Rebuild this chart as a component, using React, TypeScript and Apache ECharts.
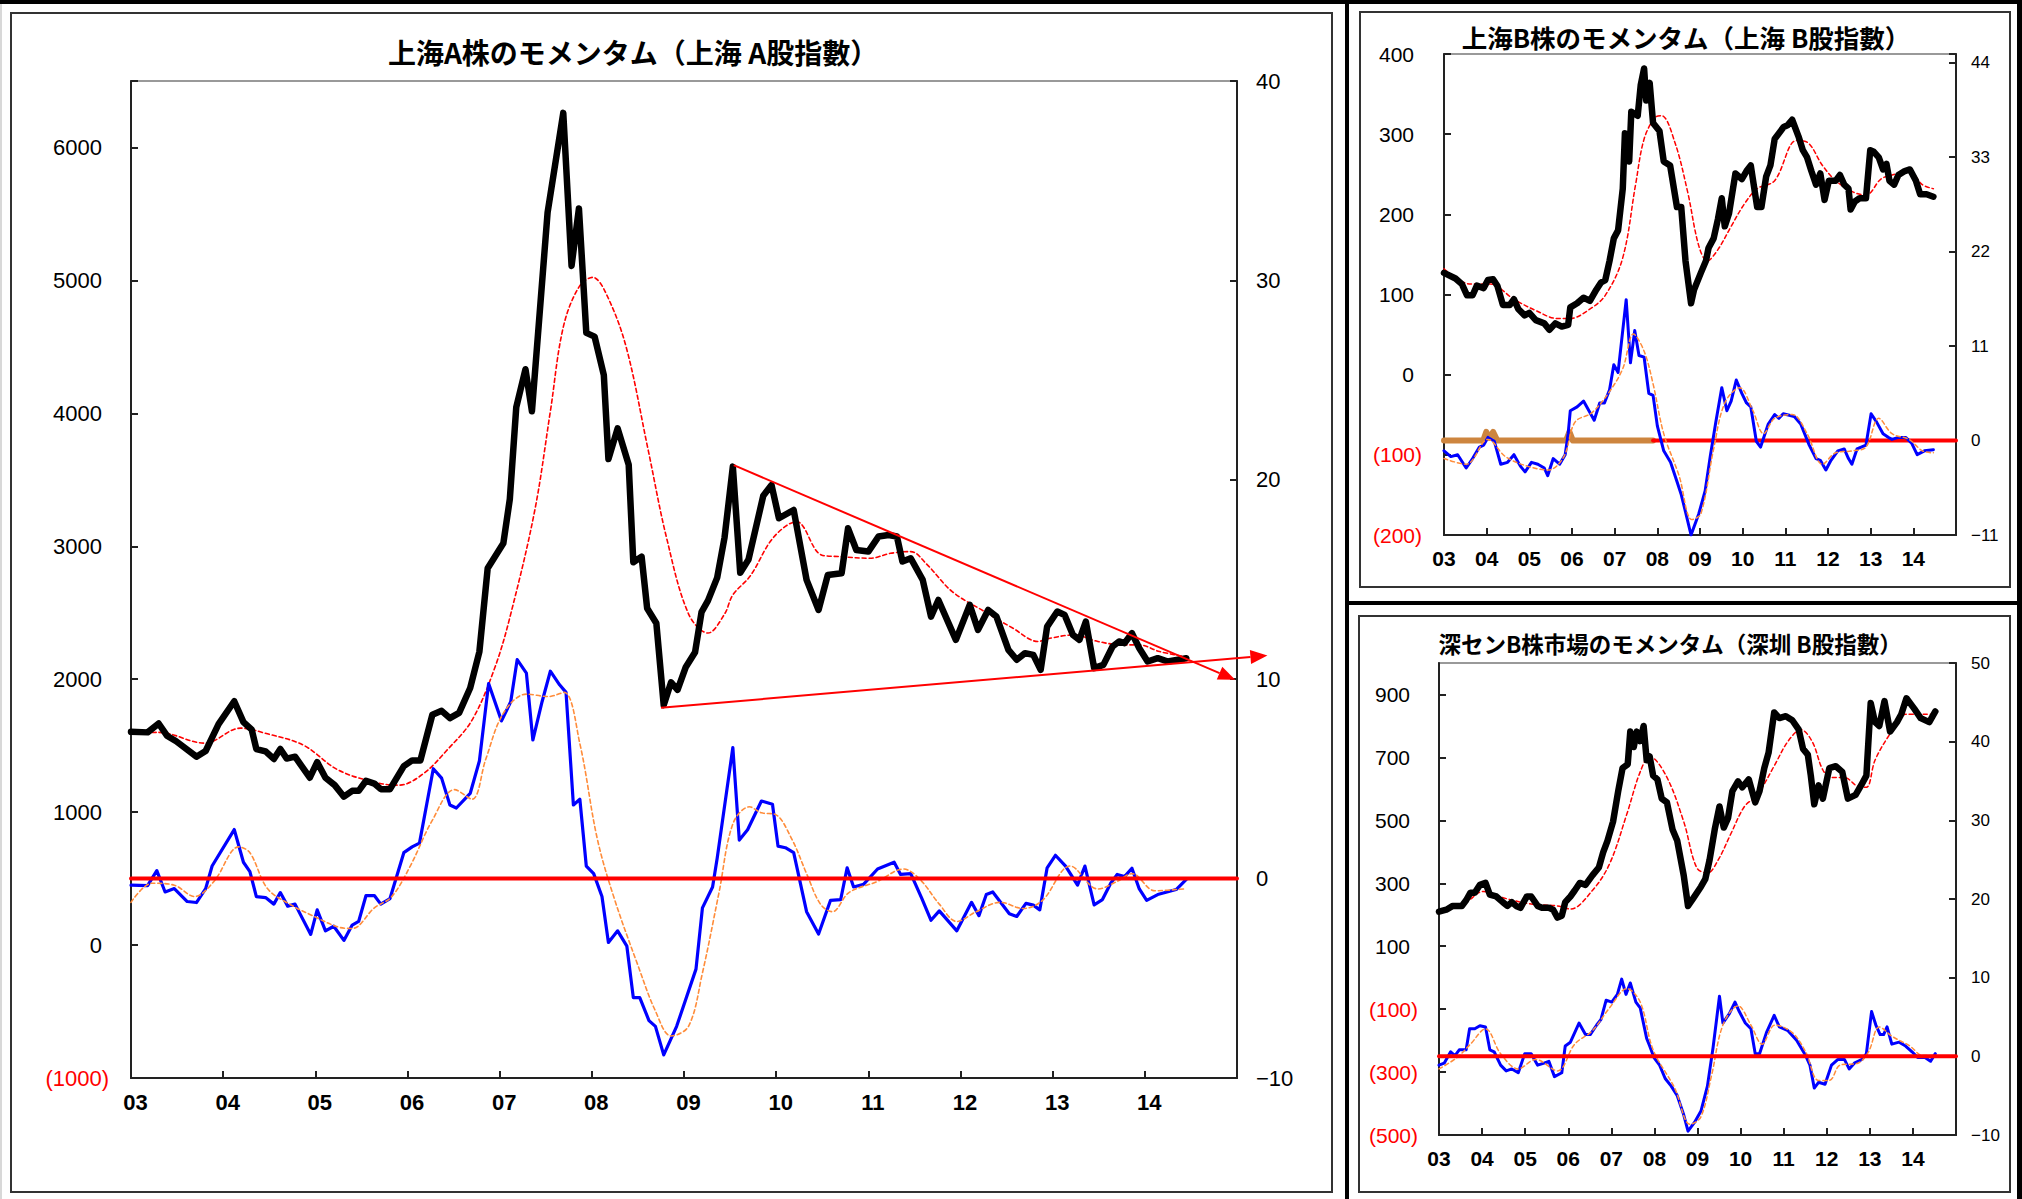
import React, { useEffect, useRef } from 'react';
import * as echarts from 'echarts';

// ---------------- DATA (x = fractional year, y = value) ----------------
// Main panel: 上海A株
const mainIndex = [[2003.0,1604],[2003.18,1600],[2003.30,1667],[2003.39,1575],[2003.49,1533],[2003.71,1417],[2003.81,1460],[2003.95,1662],[2004.12,1834],[2004.22,1677],[2004.31,1620],[2004.36,1474],[2004.46,1457],[2004.55,1400],[2004.62,1475],[2004.69,1403],[2004.78,1417],[2004.94,1259],[2005.02,1376],[2005.11,1259],[2005.21,1203],[2005.31,1116],[2005.40,1160],[2005.47,1160],[2005.55,1236],[2005.64,1215],[2005.71,1173],[2005.81,1173],[2005.96,1346],[2006.05,1389],[2006.14,1389],[2006.27,1733],[2006.37,1762],[2006.46,1707],[2006.56,1747],[2006.68,1934],[2006.78,2207],[2006.87,2835],[2007.04,3023],[2007.11,3353],[2007.18,4045],[2007.28,4332],[2007.35,4015],[2007.52,5511],[2007.69,6260],[2007.78,5109],[2007.86,5541],[2007.94,4605],[2008.03,4577],[2008.13,4289],[2008.18,3656],[2008.28,3887],[2008.40,3613],[2008.45,2880],[2008.54,2922],[2008.60,2534],[2008.70,2421],[2008.78,1805],[2008.86,1977],[2008.93,1920],[2009.02,2092],[2009.12,2203],[2009.19,2504],[2009.26,2591],[2009.36,2764],[2009.44,3066],[2009.53,3599],[2009.61,2800],[2009.70,2900],[2009.86,3380],[2009.95,3460],[2010.03,3211],[2010.19,3273],[2010.33,2747],[2010.46,2521],[2010.56,2784],[2010.71,2797],[2010.78,3135],[2010.87,2972],[2011.00,2960],[2011.11,3073],[2011.22,3085],[2011.31,3073],[2011.37,2885],[2011.46,2910],[2011.59,2747],[2011.68,2471],[2011.76,2596],[2011.95,2296],[2012.10,2559],[2012.19,2371],[2012.30,2521],[2012.39,2471],[2012.52,2221],[2012.61,2146],[2012.70,2196],[2012.79,2183],[2012.87,2070],[2012.94,2396],[2013.05,2509],[2013.13,2483],[2013.22,2333],[2013.29,2296],[2013.36,2434],[2013.45,2083],[2013.55,2108],[2013.65,2246],[2013.72,2284],[2013.78,2271],[2013.86,2346],[2013.94,2233],[2014.03,2133],[2014.14,2158],[2014.25,2133],[2014.36,2146],[2014.45,2158]];
const mainMA = [[2003.0,1589],[2003.30,1600],[2003.80,1519],[2004.19,1632],[2004.48,1589],[2004.87,1504],[2005.25,1316],[2005.69,1218],[2005.91,1203],[2006.17,1288],[2006.42,1460],[2006.70,1692],[2006.95,2092],[2007.12,2490],[2007.38,3267],[2007.55,4015],[2007.69,4648],[2007.86,4950],[2008.01,5023],[2008.15,4908],[2008.37,4505],[2008.61,3728],[2008.81,3066],[2009.05,2490],[2009.26,2347],[2009.44,2490],[2009.53,2634],[2009.72,2778],[2009.97,3066],[2010.22,3185],[2010.49,2935],[2010.69,2922],[2011.02,2910],[2011.24,2947],[2011.46,2960],[2011.64,2860],[2011.91,2659],[2012.26,2509],[2012.57,2383],[2012.84,2284],[2012.97,2308],[2013.23,2333],[2013.49,2284],[2013.76,2258],[2013.94,2258],[2014.16,2208],[2014.43,2171]];
const mainMom = [[2003.0,-0.33],[2003.18,-0.35],[2003.28,0.4],[2003.37,-0.67],[2003.47,-0.5],[2003.61,-1.15],[2003.71,-1.2],[2003.81,-0.5],[2003.88,0.63],[2004.12,2.46],[2004.22,0.82],[2004.29,0.35],[2004.36,-0.9],[2004.46,-0.95],[2004.55,-1.28],[2004.62,-0.7],[2004.70,-1.38],[2004.78,-1.28],[2004.95,-2.8],[2005.02,-1.57],[2005.11,-2.62],[2005.20,-2.39],[2005.31,-3.1],[2005.40,-2.33],[2005.47,-2.15],[2005.55,-0.85],[2005.64,-0.85],[2005.71,-1.28],[2005.81,-1.0],[2005.96,1.3],[2006.05,1.59],[2006.13,1.78],[2006.28,5.51],[2006.37,5.04],[2006.46,3.69],[2006.53,3.54],[2006.68,4.27],[2006.78,5.9],[2006.88,9.78],[2007.02,7.91],[2007.12,8.87],[2007.19,10.98],[2007.29,10.3],[2007.36,6.95],[2007.46,8.87],[2007.55,10.4],[2007.65,9.72],[2007.72,9.34],[2007.80,3.69],[2007.87,3.98],[2007.94,0.63],[2008.02,0.25],[2008.11,-0.9],[2008.18,-3.2],[2008.28,-2.62],[2008.38,-3.39],[2008.45,-5.97],[2008.52,-5.97],[2008.62,-7.12],[2008.69,-7.41],[2008.78,-8.84],[2008.92,-7.41],[2009.13,-4.54],[2009.20,-1.47],[2009.31,-0.42],[2009.36,1.02],[2009.53,6.57],[2009.60,1.93],[2009.69,2.45],[2009.84,3.89],[2009.96,3.73],[2010.02,1.63],[2010.10,1.55],[2010.19,1.3],[2010.33,-1.66],[2010.46,-2.78],[2010.59,-1.09],[2010.70,-1.05],[2010.77,0.54],[2010.84,-0.42],[2010.95,-0.28],[2011.10,0.48],[2011.28,0.82],[2011.35,0.21],[2011.46,0.25],[2011.58,-0.99],[2011.68,-2.09],[2011.77,-1.62],[2011.96,-2.62],[2012.12,-1.19],[2012.20,-1.86],[2012.28,-0.8],[2012.35,-0.67],[2012.53,-1.76],[2012.61,-1.9],[2012.71,-1.24],[2012.79,-1.33],[2012.86,-1.57],[2012.94,0.54],[2013.03,1.17],[2013.14,0.63],[2013.27,-0.33],[2013.35,0.63],[2013.45,-1.32],[2013.54,-1.05],[2013.63,-0.23],[2013.70,0.21],[2013.78,0.1],[2013.86,0.52],[2013.94,-0.52],[2014.02,-1.09],[2014.14,-0.8],[2014.34,-0.55],[2014.45,-0.04]];
const mainMomMA = [[2003.0,-1.19],[2003.23,-0.23],[2003.47,-0.33],[2003.69,-0.9],[2003.90,-0.14],[2004.17,1.59],[2004.29,1.3],[2004.48,-0.5],[2004.72,-1.28],[2004.97,-1.86],[2005.25,-2.43],[2005.40,-2.5],[2005.64,-1.47],[2005.83,-0.9],[2006.03,0.63],[2006.27,2.93],[2006.51,4.46],[2006.70,3.98],[2006.85,6.0],[2007.04,8.29],[2007.29,9.25],[2007.53,9.13],[2007.70,9.34],[2007.87,6.77],[2008.06,1.98],[2008.25,-1.09],[2008.50,-4.35],[2008.69,-6.64],[2008.86,-7.89],[2009.05,-7.4],[2009.20,-4.73],[2009.38,-0.7],[2009.53,2.74],[2009.71,3.6],[2009.84,3.3],[2009.99,3.22],[2010.17,1.98],[2010.33,0.25],[2010.48,-1.28],[2010.61,-1.66],[2010.79,-0.7],[2011.10,-0.14],[2011.38,0.48],[2011.56,-0.04],[2011.77,-1.28],[2011.96,-2.15],[2012.17,-1.66],[2012.43,-1.19],[2012.68,-1.5],[2012.89,-1.09],[2013.19,0.63],[2013.49,-0.52],[2013.70,-0.14],[2013.86,0.25],[2014.11,-0.61],[2014.42,-0.52]];
// trend lines: [x1, y1, x2, y2] on the main left axis
const mainTrend = [[2009.54,3610,2014.98,1995],[2008.75,1785,2015.33,2178]];

// Top-right: 上海B株
const trIndex = [[2003.0,127],[2003.27,120],[2003.42,113],[2003.54,99],[2003.67,99],[2003.77,111],[2003.93,108],[2004.03,118],[2004.15,119],[2004.25,111],[2004.38,87],[2004.54,87],[2004.64,94],[2004.74,82],[2004.89,74],[2005.00,77],[2005.15,68],[2005.35,64],[2005.47,56],[2005.61,64],[2005.76,60],[2005.91,62],[2005.96,84],[2006.12,89],[2006.27,96],[2006.42,92],[2006.57,106],[2006.68,115],[2006.78,118],[2006.88,142],[2006.98,170],[2007.08,180],[2007.19,232],[2007.24,301],[2007.34,266],[2007.39,328],[2007.54,323],[2007.61,361],[2007.69,382],[2007.74,342],[2007.82,364],[2007.90,314],[2008.05,304],[2008.15,266],[2008.30,261],[2008.46,209],[2008.56,209],[2008.66,142],[2008.79,89],[2008.86,106],[2009.02,127],[2009.14,142],[2009.20,158],[2009.32,170],[2009.42,194],[2009.51,220],[2009.58,185],[2009.68,201],[2009.83,251],[2009.98,244],[2010.09,254],[2010.19,261],[2010.34,209],[2010.44,209],[2010.55,247],[2010.65,261],[2010.75,294],[2010.96,309],[2011.05,311],[2011.16,318],[2011.31,297],[2011.41,280],[2011.51,271],[2011.61,254],[2011.72,237],[2011.82,251],[2011.92,218],[2012.02,242],[2012.18,242],[2012.28,249],[2012.38,237],[2012.48,232],[2012.53,206],[2012.63,216],[2012.74,220],[2012.89,220],[2012.99,280],[2013.07,278],[2013.19,271],[2013.29,256],[2013.37,263],[2013.44,242],[2013.55,237],[2013.65,249],[2013.80,254],[2013.92,256],[2014.06,242],[2014.16,225],[2014.31,225],[2014.47,222]];
const trMA = [[2003.0,132],[2003.62,113],[2004.08,113],[2004.64,94],[2005.15,80],[2005.66,70],[2005.96,70],[2006.37,80],[2006.78,99],[2007.19,146],[2007.49,237],[2007.69,294],[2007.95,321],[2008.10,323],[2008.41,290],[2008.71,228],[2008.97,161],[2009.17,142],[2009.42,156],[2009.73,185],[2010.04,213],[2010.34,232],[2010.75,242],[2011.26,292],[2011.51,290],[2011.87,261],[2012.18,242],[2012.58,228],[2012.89,224],[2013.24,244],[2013.50,249],[2013.90,254],[2014.21,237],[2014.47,232]];
const trMom = [[2003.0,-1.2],[2003.16,-1.87],[2003.32,-1.65],[2003.52,-3.2],[2003.67,-2.1],[2003.83,-0.76],[2003.93,-0.53],[2004.03,0.36],[2004.18,-0.09],[2004.33,-2.76],[2004.49,-2.54],[2004.64,-1.65],[2004.79,-2.98],[2004.90,-3.65],[2005.05,-2.54],[2005.20,-2.76],[2005.35,-3.2],[2005.43,-4.1],[2005.56,-2.1],[2005.71,-2.76],[2005.84,-1.65],[2005.91,0.8],[2005.96,3.47],[2006.12,3.92],[2006.27,4.59],[2006.42,3.25],[2006.52,2.36],[2006.65,4.37],[2006.76,4.37],[2006.88,5.92],[2006.98,8.82],[2007.08,7.93],[2007.27,16.4],[2007.37,9.04],[2007.47,12.8],[2007.57,9.9],[2007.69,9.7],[2007.80,5.5],[2007.90,5.26],[2008.00,1.7],[2008.15,-1.2],[2008.31,-2.54],[2008.46,-4.77],[2008.56,-6.3],[2008.66,-8.3],[2008.79,-11.0],[2008.97,-8.55],[2009.12,-5.88],[2009.24,-1.87],[2009.37,2.14],[2009.51,6.15],[2009.63,3.47],[2009.73,4.59],[2009.85,7.04],[2009.98,5.48],[2010.09,4.37],[2010.19,3.92],[2010.32,-0.09],[2010.42,-0.76],[2010.60,1.92],[2010.75,3.03],[2010.85,2.58],[2010.95,3.12],[2011.21,2.8],[2011.36,1.92],[2011.56,-0.53],[2011.72,-2.1],[2011.82,-2.3],[2011.95,-3.43],[2012.07,-2.3],[2012.23,-1.2],[2012.38,-0.98],[2012.48,-2.1],[2012.56,-2.76],[2012.68,-0.98],[2012.89,-0.53],[2013.01,3.12],[2013.14,2.14],[2013.29,0.8],[2013.42,0.36],[2013.50,0.13],[2013.65,0.36],[2013.82,0.36],[2013.96,-0.31],[2014.09,-1.65],[2014.26,-1.2],[2014.47,-1.07]];
const trMomMA = [[2003.0,-2.1],[2003.52,-2.76],[2004.03,0.13],[2004.44,-1.87],[2004.95,-2.98],[2005.45,-3.43],[2005.81,-1.87],[2006.07,2.14],[2006.47,3.25],[2006.88,5.7],[2007.19,8.37],[2007.44,12.4],[2007.69,10.4],[2007.90,6.6],[2008.15,0.8],[2008.51,-4.1],[2008.81,-9.2],[2009.02,-8.55],[2009.32,-0.98],[2009.58,4.37],[2009.93,6.15],[2010.24,3.47],[2010.49,0.8],[2010.75,2.58],[2011.16,3.03],[2011.51,0.8],[2011.87,-2.76],[2012.18,-1.43],[2012.58,-1.2],[2012.89,-0.76],[2013.19,2.58],[2013.50,0.8],[2013.90,0.13],[2014.21,-1.2],[2014.47,-1.43]];
const trBaseA = [[2003.0,0],[2003.92,0],[2003.99,1],[2004.07,0.3],[2004.15,1],[2004.25,0],[2005.86,0],[2005.94,1],[2006.02,0],[2007.9,0]];
const trBaseB = [[2007.9,0],[2015.0,0]];

// Bottom-right: 深センB株
const brIndex = [[2003.0,210],[2003.17,216],[2003.32,228],[2003.53,228],[2003.63,246],[2003.73,270],[2003.83,270],[2003.95,295],[2004.08,301],[2004.18,264],[2004.33,258],[2004.48,240],[2004.59,228],[2004.69,240],[2004.79,228],[2004.89,222],[2005.04,258],[2005.14,258],[2005.29,228],[2005.39,222],[2005.55,222],[2005.65,216],[2005.75,191],[2005.85,197],[2005.93,240],[2006.05,258],[2006.15,277],[2006.27,301],[2006.40,295],[2006.56,325],[2006.71,350],[2006.81,398],[2006.91,435],[2007.04,496],[2007.16,593],[2007.26,666],[2007.38,678],[2007.44,782],[2007.52,733],[2007.59,782],[2007.67,752],[2007.75,800],[2007.82,691],[2007.89,703],[2007.97,642],[2008.07,630],[2008.17,569],[2008.29,557],[2008.42,471],[2008.53,435],[2008.68,325],[2008.78,228],[2008.90,252],[2009.08,289],[2009.18,313],[2009.28,374],[2009.40,471],[2009.51,544],[2009.61,477],[2009.71,508],[2009.81,593],[2009.94,624],[2010.04,605],[2010.19,630],[2010.34,557],[2010.44,593],[2010.55,666],[2010.65,715],[2010.78,843],[2010.90,825],[2011.05,831],[2011.20,818],[2011.35,788],[2011.45,727],[2011.56,709],[2011.63,642],[2011.71,551],[2011.81,611],[2011.91,569],[2012.06,666],[2012.21,672],[2012.36,654],[2012.49,569],[2012.67,581],[2012.82,617],[2012.92,642],[2013.02,873],[2013.12,812],[2013.22,800],[2013.34,879],[2013.47,782],[2013.63,812],[2013.73,837],[2013.85,888],[2014.03,855],[2014.18,825],[2014.38,812],[2014.52,846]];
const brMA = [[2003.0,204],[2003.63,240],[2004.03,274],[2004.54,252],[2005.14,234],[2005.75,228],[2006.05,218],[2006.56,277],[2006.96,362],[2007.36,520],[2007.67,654],[2007.89,703],[2008.27,642],[2008.68,496],[2008.98,350],[2009.23,332],[2009.48,374],[2009.78,459],[2010.09,544],[2010.39,581],[2010.80,678],[2011.10,751],[2011.40,788],[2011.66,751],[2011.91,660],[2012.11,636],[2012.41,636],[2012.72,608],[2012.92,605],[2013.12,691],[2013.47,775],[2013.83,837],[2014.23,837],[2014.52,837]];
const brMom = [[2003.0,-1.12],[2003.12,-0.87],[2003.27,0.58],[2003.37,0.1],[2003.47,0.83],[2003.63,0.83],[2003.71,3.5],[2003.83,3.5],[2003.95,3.89],[2004.08,3.74],[2004.18,0.83],[2004.28,0.58],[2004.43,-1.12],[2004.56,-1.85],[2004.69,-1.6],[2004.84,-2.09],[2004.99,0.34],[2005.14,0.34],[2005.29,-1.12],[2005.44,-0.87],[2005.55,-0.63],[2005.68,-2.58],[2005.85,-2.09],[2005.93,1.31],[2006.05,1.8],[2006.25,4.23],[2006.40,2.77],[2006.51,2.77],[2006.66,3.98],[2006.76,4.71],[2006.88,7.14],[2007.01,6.9],[2007.14,7.87],[2007.24,9.82],[2007.34,7.87],[2007.44,9.33],[2007.57,6.9],[2007.67,6.17],[2007.82,2.28],[2007.89,1.31],[2007.99,-0.15],[2008.12,-1.12],[2008.25,-2.82],[2008.39,-3.79],[2008.53,-5.0],[2008.68,-7.43],[2008.78,-9.52],[2008.93,-8.4],[2009.08,-6.95],[2009.23,-3.79],[2009.36,1.07],[2009.51,7.63],[2009.59,4.23],[2009.74,5.44],[2009.87,6.9],[2009.97,5.69],[2010.11,4.23],[2010.24,3.5],[2010.34,0.34],[2010.44,0.34],[2010.60,3.01],[2010.78,5.2],[2010.90,3.74],[2011.10,3.26],[2011.30,2.04],[2011.51,0.1],[2011.61,-1.12],[2011.71,-4.03],[2011.81,-3.3],[2011.96,-3.55],[2012.11,-1.12],[2012.26,-0.39],[2012.41,-0.39],[2012.52,-1.6],[2012.64,-0.87],[2012.82,-0.39],[2012.92,0.34],[2013.04,5.69],[2013.14,3.98],[2013.24,2.77],[2013.32,2.77],[2013.40,3.74],[2013.51,1.55],[2013.68,1.8],[2013.83,1.31],[2013.98,0.58],[2014.11,-0.15],[2014.28,-0.15],[2014.41,-0.63],[2014.52,0.34]];
const brMomMA = [[2003.0,-1.6],[2003.42,-0.15],[2003.73,1.55],[2004.08,3.5],[2004.43,0.34],[2004.84,-1.6],[2005.24,-0.39],[2005.75,-1.85],[2006.15,1.55],[2006.56,3.26],[2006.96,6.17],[2007.36,8.6],[2007.67,6.9],[2007.97,0.83],[2008.47,-4.03],[2008.83,-8.65],[2009.08,-7.68],[2009.33,-2.33],[2009.59,3.98],[2009.94,6.41],[2010.24,3.98],[2010.50,1.55],[2010.80,3.98],[2011.20,3.01],[2011.51,0.58],[2011.81,-3.06],[2012.06,-3.06],[2012.31,-1.12],[2012.72,-0.87],[2012.97,0.58],[2013.22,3.74],[2013.52,2.53],[2013.93,1.31],[2014.23,0.1],[2014.52,0.1]];
const zeroLine = [[2003.0,0],[2015.0,0]];

// tick values
const brLeftTicks = [-500, -300, -100, 100, 300, 500, 700, 900];

// titles
const titleMain = '上海A株のモメンタム（上海 A股指數）';
const titleTR = '上海B株のモメンタム（上海 B股指數）';
const titleBR = '深センB株市場のモメンタム（深圳 B股指數）';

// ---------------- helpers ----------------
const NUM = '"Liberation Sans", Arial, sans-serif';
const CJK = '"Noto Sans CJK JP", "Noto Sans CJK SC", sans-serif';
const AX = '#222';

function xAxisOf(gridIndex: number, fontSize: number, padLeft: number) {
  return {
    type: 'value', gridIndex, min: 2003, max: 2015, interval: 1,
    axisLine: { show: true, onZero: false, lineStyle: { color: AX, width: 2 } },
    axisTick: { show: true, inside: true, length: 7, lineStyle: { color: AX, width: 2 } },
    splitLine: { show: false },
    axisLabel: {
      margin: 13, fontSize, fontWeight: 'bold', fontFamily: NUM, color: '#000',
      padding: [0, 0, 0, padLeft],
      formatter: (v: number) => (v >= 2015 ? '' : String(v).slice(2)),
    },
  };
}

function leftAxisOf(gridIndex: number, min: number, max: number, interval: number | null,
  custom: number[] | null, hideAbove: number, fontSize: number, margin: number, padRight: number) {
  const ax: any = {
    type: 'value', gridIndex, position: 'left', min, max,
    axisLine: { show: true, onZero: false, lineStyle: { color: AX, width: 2 } },
    axisTick: { show: true, inside: true, length: 7, lineStyle: { color: AX, width: 2 } },
    splitLine: { show: false },
    axisLabel: {
      margin, fontSize, fontFamily: NUM, color: '#000',
      formatter: (v: number) => (v > hideAbove ? '' : v < 0 ? `{n|(${-v})}` : `{p|${v}}`),
      rich: {
        n: { color: '#FF0000', fontSize, fontFamily: NUM },
        p: { color: '#000', fontSize, fontFamily: NUM, padding: [0, padRight, 0, 0] },
      },
    },
  };
  if (interval !== null) ax.interval = interval;
  if (custom) { ax.axisLabel.customValues = custom; ax.axisTick.customValues = custom; }
  return ax;
}

function rightAxisOf(gridIndex: number, min: number, max: number, interval: number,
  hideAbove: number, fontSize: number, margin: number) {
  return {
    type: 'value', gridIndex, position: 'right', min, max, interval,
    axisLine: { show: true, onZero: false, lineStyle: { color: AX, width: 2 } },
    axisTick: { show: true, inside: true, length: 7, lineStyle: { color: AX, width: 2 } },
    splitLine: { show: false },
    axisLabel: {
      margin, fontSize, fontFamily: NUM, color: '#000',
      formatter: (v: number) => (v > hideAbove ? '' : v < 0 ? '\u2212' + -v : String(v)),
    },
  };
}

function lineOf(data: number[][], xi: number, yi: number, color: string, width: number,
  type: any, z: number, smooth: number | boolean = false) {
  return {
    type: 'line', data, xAxisIndex: xi, yAxisIndex: yi, showSymbol: false, symbol: 'none',
    smooth, silent: true, z,
    lineStyle: { color, width, type, join: 'round', cap: 'round' },
  };
}

const RED = '#FF0000';
const BLUE = '#0000FF';
const ORANGE = '#FF8C3A';
const DOT: any = [4, 3];

export default function App() {
  const ref = useRef<HTMLDivElement>(null);
  useEffect(() => {
    if (!ref.current) return;
    const chart = echarts.init(ref.current, null, { renderer: 'svg' });
    const option: any = {
      animation: false,
      backgroundColor: '#fff',
      title: [
        { text: titleMain, left: 633, top: 52, textAlign: 'center', textVerticalAlign: 'middle', padding: 0,
          textStyle: { fontFamily: CJK, fontSize: 28, fontWeight: 'bold', color: '#000' } },
        { text: titleTR, left: 1686, top: 36, textAlign: 'center', textVerticalAlign: 'middle', padding: 0,
          textStyle: { fontFamily: CJK, fontSize: 25.5, fontWeight: 'bold', color: '#000' } },
        { text: titleBR, left: 1670, top: 643, textAlign: 'center', textVerticalAlign: 'middle', padding: 0,
          textStyle: { fontFamily: CJK, fontSize: 22.5, fontWeight: 'bold', color: '#000' } },
      ],
      graphic: [
        { type: 'rect', shape: { x: 0, y: 0, width: 2, height: 1199 }, style: { fill: '#d8d8d8' }, silent: true },
        { type: 'rect', shape: { x: 0, y: 0, width: 2022, height: 4 }, style: { fill: '#000' }, silent: true },
        { type: 'rect', shape: { x: 2017, y: 0, width: 5, height: 1199 }, style: { fill: '#000' }, silent: true },
        { type: 'rect', shape: { x: 1345, y: 0, width: 4, height: 1199 }, style: { fill: '#000' }, silent: true },
        { type: 'rect', shape: { x: 1345, y: 601, width: 677, height: 4 }, style: { fill: '#000' }, silent: true },
        { type: 'rect', shape: { x: 11, y: 13, width: 1321, height: 1179 }, style: { fill: 'none', stroke: '#333', lineWidth: 2 }, silent: true },
        { type: 'rect', shape: { x: 1360, y: 12, width: 650, height: 575 }, style: { fill: 'none', stroke: '#333', lineWidth: 2 }, silent: true },
        { type: 'rect', shape: { x: 1359, y: 616, width: 651, height: 576 }, style: { fill: 'none', stroke: '#333', lineWidth: 2 }, silent: true },
      ],
      grid: [
        { left: 131, top: 81, width: 1106, height: 997, show: true, borderColor: '#999', borderWidth: 2, containLabel: false },
        { left: 1444, top: 54, width: 512, height: 481, show: true, borderColor: '#999', borderWidth: 2, containLabel: false },
        { left: 1439, top: 663, width: 517, height: 472, show: true, borderColor: '#999', borderWidth: 2, containLabel: false },
      ],
      xAxis: [xAxisOf(0, 22, 9), xAxisOf(1, 21, 0), xAxisOf(2, 21, 0)],
      yAxis: [
        leftAxisOf(0, -1000, 6500, 1000, null, 6000, 22, 22, 7),
        rightAxisOf(0, -10, 40, 10, 40, 22, 19),
        leftAxisOf(1, -200, 400, 100, null, 400, 21, 22, 8),
        rightAxisOf(1, -11, 45, 11, 44, 17, 15),
        leftAxisOf(2, -500, 1000, null, brLeftTicks, 900, 21, 21, 8),
        rightAxisOf(2, -10, 50, 10, 50, 17, 15),
      ],
      series: [
        // main panel
        lineOf(mainMA, 0, 0, RED, 1.6, DOT, 2, 0.35),
        lineOf(mainIndex, 0, 0, '#000', 6.5, 'solid', 3),
        lineOf(mainMom, 0, 1, BLUE, 3.2, 'solid', 3),
        lineOf(mainMomMA, 0, 1, ORANGE, 1.6, DOT, 4, 0.35),
        lineOf(zeroLine, 0, 1, RED, 4, 'solid', 5),
        {
          type: 'custom', xAxisIndex: 0, yAxisIndex: 0, data: mainTrend, clip: false, silent: true, z: 6,
          encode: { x: [0, 2], y: [1, 3] },
          renderItem: (params: any, api: any) => {
            const a = api.coord([api.value(0), api.value(1)]);
            const b = api.coord([api.value(2), api.value(3)]);
            const dx = b[0] - a[0];
            const dy = b[1] - a[1];
            const L = Math.hypot(dx, dy) || 1;
            const ux = dx / L;
            const uy = dy / L;
            const hl = 17;
            const hw = 7;
            const bx = b[0] - ux * hl;
            const by = b[1] - uy * hl;
            return {
              type: 'group',
              children: [
                { type: 'line', shape: { x1: a[0], y1: a[1], x2: bx, y2: by }, style: { stroke: RED, lineWidth: 2 } },
                { type: 'polygon', shape: { points: [[b[0], b[1]], [bx - uy * hw, by + ux * hw], [bx + uy * hw, by - ux * hw]] }, style: { fill: RED } },
              ],
            };
          },
        },
        // top-right panel
        lineOf(trMA, 1, 2, RED, 1.5, DOT, 2, 0.35),
        lineOf(trIndex, 1, 2, '#000', 6.5, 'solid', 3),
        lineOf(trBaseA, 1, 3, '#CD853F', 6, 'solid', 3),
        lineOf(trBaseB, 1, 3, RED, 4, 'solid', 3),
        lineOf(trMom, 1, 3, BLUE, 3, 'solid', 4),
        lineOf(trMomMA, 1, 3, ORANGE, 1.5, DOT, 5, 0.35),
        // bottom-right panel
        lineOf(brMA, 2, 4, RED, 1.5, DOT, 2, 0.35),
        lineOf(brIndex, 2, 4, '#000', 6.5, 'solid', 3),
        lineOf(brMom, 2, 5, BLUE, 3, 'solid', 3),
        lineOf(brMomMA, 2, 5, ORANGE, 1.5, DOT, 4, 0.35),
        lineOf(zeroLine, 2, 5, RED, 4, 'solid', 5),
      ],
    };
    chart.setOption(option);
    return () => chart.dispose();
  }, []);
  return (
    <div
      ref={ref}
      style={{ position: 'absolute', left: 0, top: 0, width: 2022, height: 1199, background: '#fff' }}
    />
  );
}
